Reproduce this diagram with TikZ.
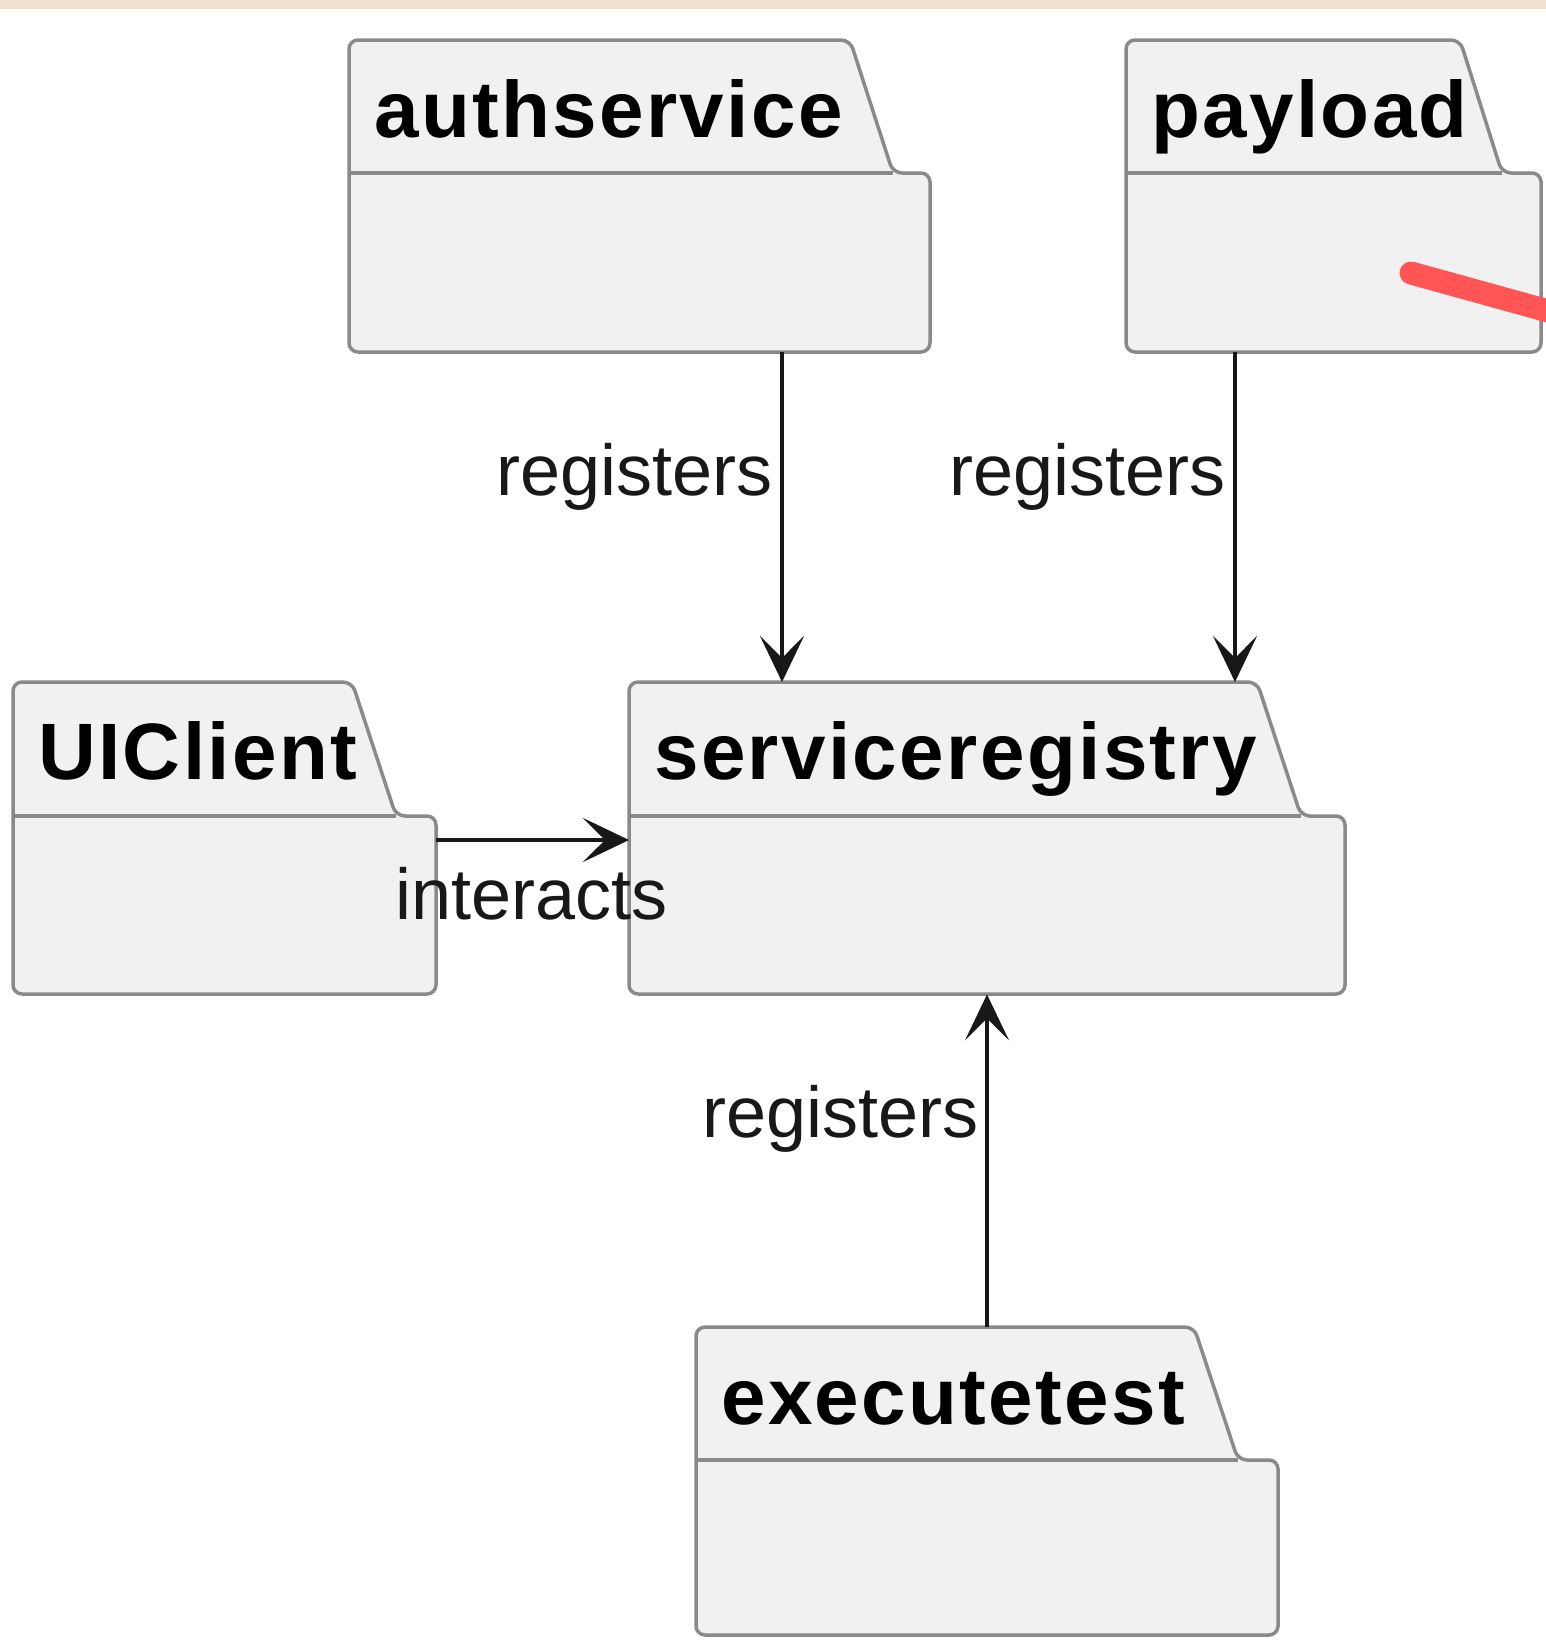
\documentclass[tikz,border=0pt]{standalone}
\usepackage{fontspec}
\setmainfont{Liberation Sans}
\newfontfamily\pkgfam[LetterSpace=3.0]{Liberation Sans}
\usetikzlibrary{arrows.meta}
\definecolor{band}{HTML}{EFE0D0}
\definecolor{pkgfill}{HTML}{F1F1F1}
\definecolor{pkgline}{HTML}{8A8A8A}
\definecolor{arrcol}{HTML}{181818}
\definecolor{redline}{HTML}{FF5555}
\newcommand\pkgtitlefont{\pkgfam\fontsize{80}{84}\selectfont\bfseries}
\newcommand\lblfont{\fontsize{72}{76}\selectfont}
\tikzset{
  pkgshape/.style={draw=pkgline, fill=pkgfill, line width=3.5pt, rounded corners=9pt},
  pkgtab/.style={draw=pkgline, line width=3.5pt},
  pkgtitle/.style={anchor=base west, inner sep=0pt, font=\pkgtitlefont, text=black},
  arr/.style={draw=arrcol, line width=3.5pt, -{Stealth[length=46pt, width=44pt, inset=22pt]}},
  lbl/.style={inner sep=0pt, font=\lblfont, text=arrcol},
}
% name, L, T, R, B, tabY, xt, xs, title
\newcommand\pkgbox[9]{%
  \node[inner sep=0pt, minimum width={(#4-#2)*1pt}, minimum height={(#5-#3)*1pt}, anchor=north west] (#1) at (#2,#3) {};
  \draw[pkgshape] (#2,#6) -- (#2,#3) -- (#7,#3) -- (#8,#6) -- (#4,#6) -- (#4,#5) -- (#2,#5) -- cycle;
  \draw[pkgtab] (#2,#6) -- (#8,#6);
  \node[pkgtitle] (#1-title) at ({#2+25},{#3+97}) {#9};
}
\begin{document}
\begin{tikzpicture}[x=1pt, y=-1pt]
\useasboundingbox (0,0) rectangle (1546,1641);
\fill[white] (0,0) rectangle (1546,1641);
\fill[band] (0,0) rectangle (1546,9);

\pkgbox{auth}{349}{40}{930}{352}{173}{850}{893}{authservice}
\pkgbox{payload}{1126}{40}{1541}{352}{173}{1460}{1502}{payload}
\pkgbox{ui}{13}{682}{436}{994}{816}{352}{396}{UIClient}
\pkgbox{sr}{629}{682}{1345}{994}{816}{1257}{1301}{serviceregistry}
\pkgbox{exec}{696}{1327}{1278}{1635}{1460}{1194}{1238}{executetest}

\begin{scope}
\clip (0,0) rectangle (1546,1641);
\draw[redline, line width=23pt, line cap=round] (1411,273) -- (1570,317);
\end{scope}

\coordinate (xa) at (782,0);
\coordinate (xp) at (1235,0);
\coordinate (xe) at (987,0);
\coordinate (yi) at (0,840);

\draw[arr] (auth.south -| xa) -- (sr.north -| xa);
\draw[arr] (payload.south -| xp) -- (sr.north -| xp);
\draw[arr] (exec.north -| xe) -- (sr.south -| xe);
\draw[arr] (ui.east |- yi) -- (sr.west |- yi);

\node[lbl, anchor=base east] (l1) at (773,495) {registers};
\node[lbl, anchor=base east] (l2) at (1226,495) {registers};
\node[lbl, anchor=base east] (l3) at (979,1137) {registers};
\node[lbl, anchor=base west] (l4) at (395,919) {interacts};
\end{tikzpicture}
\end{document}
